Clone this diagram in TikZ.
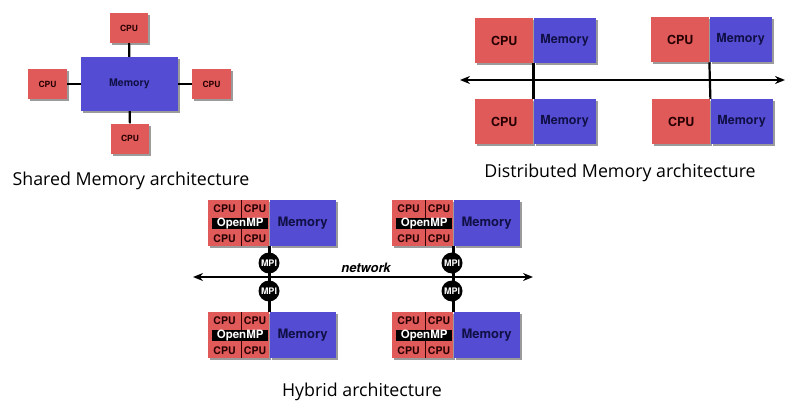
\documentclass[tikz,border=0pt]{standalone}
\usepackage{fontspec}
\setsansfont{TeX Gyre Heros}
\newfontfamily\captionfont{Open Sans}
\usetikzlibrary{shadows}
\usetikzlibrary{arrows.meta}
\usetikzlibrary{positioning}
\definecolor{cpured}{RGB}{224,90,90}
\definecolor{memblue}{RGB}{84,76,210}
\definecolor{memtext}{RGB}{16,16,70}
\tikzset{
  box/.style={inner sep=0pt, drop shadow={shadow xshift=2pt, shadow yshift=-2pt, fill=black!65, opacity=.6}},
  cpubox/.style={box, fill=cpured, text=black!85!red},
  membox/.style={box, fill=memblue, text=memtext},
  lbl/.style={font=\sffamily\bfseries\fontsize{#1}{#1}\selectfont},
  link/.style={line width=2.2pt},
  bus/.style={line width=2.6pt, {Stealth[length=10pt,width=8pt]}-{Stealth[length=10pt,width=8pt]}},
  mpi/.style={circle, fill=black, text=white, inner sep=0pt, minimum size=21pt, lbl=9},
  arch/.style={anchor=base, font=\captionfont\fontsize{17.8}{20}\selectfont}
}
\begin{document}
\begin{tikzpicture}[x=1pt, y=-1pt]
                \useasboundingbox (0,0) rectangle (793,404);
                % Shared memory
                \node[membox, lbl=10.5, minimum width=97pt, minimum height=54pt] (M) at (129.5,84) {Memory};
                \node[cpubox, lbl=8.5, minimum width=38pt, minimum height=30pt] (Cn) at (129,28) {CPU};
                \node[cpubox, lbl=8.5, minimum width=39pt, minimum height=30pt] (Cw) at (47.5,84) {CPU};
                \node[cpubox, lbl=8.5, minimum width=39pt, minimum height=30pt] (Ce) at (211.5,84) {CPU};
                \node[cpubox, lbl=8.5, minimum width=38pt, minimum height=30pt] (Cs) at (130,138.5) {CPU};
                \draw[link] (Cn) -- (M);
                \draw[link] (Cw) -- (M);
                \draw[link] (Ce) -- (M);
                \draw[link] (Cs) -- (M);
                \node[arch] (capS) at (131,185) {Shared Memory architecture};

                % Distributed memory
                \foreach \n/\x/\y in {D1/475/18, D2/651/17, D3/475/99, D4/652/99} {
                    \node[cpubox, lbl=12.5, anchor=north west, minimum width=58pt, minimum height=45pt] (\n cpu) at (\x,\y) {CPU};
                    \node[membox, lbl=12.5, anchor=north west, minimum width=62pt, minimum height=45pt] (\n mem) at (\n cpu.north east) {Memory};
                }
                \coordinate (busL) at (460,80);
                \coordinate (busR) at (785,80);
                \draw[link] (D1cpu.south east) -- (D3cpu.north east);
                \draw[link] (D2cpu.south east) -- (D4cpu.north east);
                \draw[bus] (busL) -- (busR);
                \node[arch] (capD) at (620,177) {Distributed Memory architecture};

                % Hybrid
                \foreach \n/\x/\y in {H1/208/200, H2/392/200, H3/208/312, H4/392/312} {
                    \node[cpubox, anchor=north west, minimum width=61pt, minimum height=46pt] (\n cpu) at (\x,\y) {};
                    \node[membox, lbl=13, anchor=north west, minimum width=66pt, minimum height=46pt] (\n mem) at (\n cpu.north east) {Memory};
                    \draw[line width=1pt, black!80!red] ([xshift=33pt]\n cpu.north west) -- ([xshift=33pt]\n cpu.south west);
                    \node[fill=black, text=white, lbl=11.5, inner sep=0pt, minimum width=56pt, minimum height=10.5pt] (\n omp) at ([xshift=1.5pt]\n cpu.center) {OpenMP};
                    \node[lbl=10.5, text=black!85!red] at ([shift={(16.5,9)}]\n cpu.north west) {CPU};
                    \node[lbl=10.5, text=black!85!red] at ([shift={(47,9)}]\n cpu.north west) {CPU};
                    \node[lbl=10.5, text=black!85!red] at ([shift={(16.5,-8)}]\n cpu.south west) {CPU};
                    \node[lbl=10.5, text=black!85!red] at ([shift={(47,-8)}]\n cpu.south west) {CPU};
                }
                \coordinate (netL) at (193,277);
                \coordinate (netR) at (533,277);
                \draw[bus] (netL) -- (netR);
                \draw[link] (H1cpu.south east) -- (H3cpu.north east);
                \draw[link] (H2cpu.south east) -- (H4cpu.north east);
                \node[mpi] (P1) at (269,263) {MPI};
                \node[mpi] (P2) at (452,263) {MPI};
                \node[mpi] (P3) at (269,291) {MPI};
                \node[mpi] (P4) at (452,291) {MPI};
                \node[font=\sffamily\bfseries\itshape\fontsize{13}{13}\selectfont] (net) at (366,268) {network};
                \node[arch] (capH) at (362,396) {Hybrid architecture};
\end{tikzpicture}
\end{document}
